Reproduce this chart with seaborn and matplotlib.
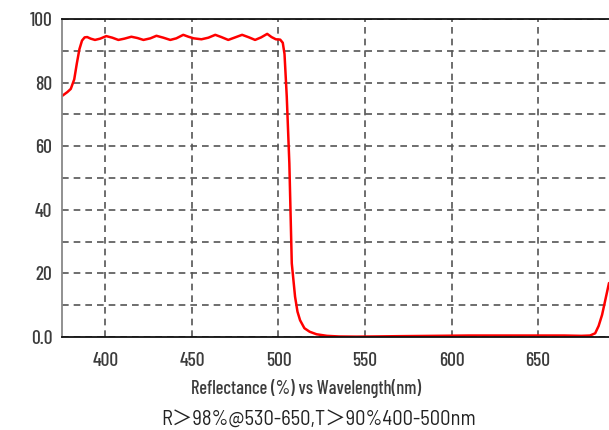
import seaborn as sns
import pandas as pd
import matplotlib.pyplot as plt

# Reflectance curve
wavelength = [375, 378, 380, 382, 383.5, 385, 386.5, 388, 389.5, 391.5, 394, 397, 400.5,
              404, 407.5, 411, 415, 418.5, 422, 426, 429.5, 433.5, 437.5, 441, 445, 448,
              451, 455.5, 459.5, 463.5, 467, 471, 475, 479, 483, 486.5, 490, 493.5, 496,
              498.5, 501, 502.5, 503.5, 504.8, 506.3, 507.7, 509.6, 511, 512.5, 515, 518,
              522, 528, 535, 545, 555, 570, 590, 610, 630, 650, 665, 675, 680, 683, 685,
              687, 689, 691]
reflectance = [75.8, 77, 78, 81, 86, 90.5, 93.2, 94.2, 94.3, 93.8, 93.4, 93.8, 94.6,
               94.1, 93.4, 93.8, 94.4, 94.0, 93.4, 93.9, 94.7, 94.1, 93.4, 93.9, 95.0, 94.4,
               93.9, 93.6, 94.1, 95.0, 94.3, 93.4, 94.2, 95.0, 94.2, 93.4, 94.2, 95.3, 94.3,
               93.6, 93.5, 92.5, 89, 75.6, 54.6, 23.2, 12.7, 8, 5.3, 2.8, 1.7,
               0.9, 0.4, 0.2, 0.15, 0.2, 0.3, 0.4, 0.5, 0.5, 0.5, 0.5, 0.4, 0.5, 1.2, 3.5,
               7, 12, 17]

x_ticks = [400, 450, 500, 550, 600, 650]
y_ticks = [0, 20, 40, 60, 80, 100]
y_labels = ['0.0', '20', '40', '60', '80', '100']

df = pd.DataFrame({'Wavelength': wavelength, 'Reflectance': reflectance})

sns.set_theme(style="white")
plt.rcParams['font.family'] = ['Barlow Condensed', 'Noto Sans CJK SC', 'DejaVu Sans']
plt.rcParams['font.weight'] = 'medium'

fig = plt.figure(figsize=(6.09, 4.3), dpi=100)
ax = fig.add_axes([0.102, 0.216, 0.898, 0.740])

sns.lineplot(x='Wavelength', y='Reflectance', data=df, color='#ff0000', linewidth=1.8, ax=ax)

ax.set_xlim(375, 691)
ax.set_ylim(0, 100)
ax.set_xticks(x_ticks)
ax.set_yticks(y_ticks)
ax.set_yticklabels(y_labels)
ax.set_yticks(range(10, 100, 10), minor=True)
ax.tick_params(which='both', length=0)
ax.tick_params(axis='y', pad=7, labelsize=14, labelcolor='#3c3c3c')
ax.tick_params(axis='x', pad=11, labelsize=14, labelcolor='#3c3c3c')

# Dashed grid
ax.grid(which='both', color='#555555', linestyle=(0, (4, 3)), linewidth=1.2)
ax.set_axisbelow(True)

# Spines
ax.spines['top'].set_color('#111111')
ax.spines['bottom'].set_color('#111111')
ax.spines['left'].set_color('#888888')
ax.spines['right'].set_visible(False)
for s in ['top', 'bottom', 'left']:
    ax.spines[s].set_linewidth(1.3)

ax.set_xlabel('')
ax.set_ylabel('')

fig.text(0.5033, 1 - 394 / 430, 'Reflectance (%) vs Wavelength(nm)', ha='center', va='baseline',
         fontsize=13.3, color='#3c3c3c', fontweight='medium')
fig.text(0.524, 1 - 425 / 430, 'R\uff1e98%@530-650,T\uff1e90%400-500nm', ha='center', va='baseline',
         fontsize=14.8, color='#222222', fontweight='normal',
         family=['Barlow Semi Condensed', 'Noto Sans CJK SC'])

plt.savefig('out.png', dpi=100)
